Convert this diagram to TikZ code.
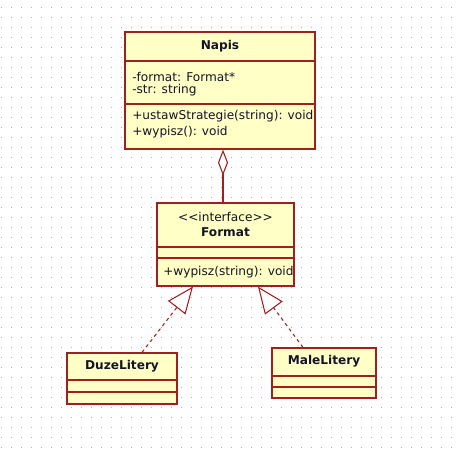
\documentclass[tikz,border=0pt]{standalone}
\usepackage{fontspec}
\setmainfont{DejaVu Sans}
\usetikzlibrary{arrows.meta,calc}
\definecolor{boxfill}{RGB}{255,255,198}
\definecolor{boxline}{RGB}{160,32,32}
\definecolor{dotc}{RGB}{175,175,175}
\definecolor{txt}{RGB}{20,20,40}
\tikzset{
  cls/.style={draw=boxline, fill=boxfill, line width=0.9pt, inner sep=0pt, rectangle},
  sep/.style={draw=boxline, line width=0.9pt},
  lbl/.style={inner sep=0pt, text=txt, font=\fontsize{9.1}{11}\selectfont},
  lblw/.style={lbl, anchor=west},
  ttl/.style={lbl, font=\fontsize{9.1}{11}\selectfont\bfseries},
  agg/.style={draw=boxline, line width=0.8pt, {Diamond[open, length=19.5pt, width=7.5pt, fill=white]}-},
  real/.style={draw=boxline, line width=0.8pt, dash pattern=on 2.5pt off 2.5pt, -{Triangle[open, length=20pt, width=16.5pt, fill=white]}}
}
\begin{document}
\begin{tikzpicture}[x=0.75pt, y=-0.75pt]
\useasboundingbox (0,0) rectangle (457,454);
\fill[white] (0,0) rectangle (457,454);
\foreach \i in {0,...,45}{
  \foreach \j in {0,...,44}{
    \fill[dotc] (1+10*\i,7+10*\j) rectangle ++(1.4,1.4);
  }
}
% Napis
\node[cls, minimum width=142.5pt, minimum height=87.75pt] (napis) at (220,90.5) {};
\draw[sep] (125,61) -- (315,61);
\draw[sep] (125,104) -- (315,104);
\node[ttl] (napisT) at (220,46.5) {Napis};
\node[lblw] (a1) at (132,76.5) {-format: Format*};
\node[lblw] (a2) at (132,90.5) {-str: string};
\node[lblw] (m1) at (132,116) {+ustawStrategie(string): void};
\node[lblw] (m2) at (132,132) {+wypisz(): void};
% Format
\node[cls, minimum width=102.75pt, minimum height=62.25pt] (format) at (225.5,244.5) {};
\draw[sep] (157,247) -- (294,247);
\draw[sep] (157,258) -- (294,258);
\node[lbl] (fS) at (225.5,217) {<{}<interface>{}>};
\node[ttl] (fT) at (225.5,232) {Format};
\node[lblw] (fm) at (163,272) {+wypisz(string): void};
% DuzeLitery
\node[cls, minimum width=82.5pt, minimum height=38.25pt] (duze) at (122,378.5) {};
\draw[sep] (67,380) -- (177,380);
\draw[sep] (67,392) -- (177,392);
\node[ttl] (dT) at (122,366.5) {DuzeLitery};
% MaleLitery
\node[cls, minimum width=78pt, minimum height=37.5pt] (male) at (324,373) {};
\draw[sep] (272,376) -- (376,376);
\draw[sep] (272,387) -- (376,387);
\node[ttl] (mT) at (324,361) {MaleLitery};
% connectors
\draw[agg] ($(napis.south)+(3,0)$) -- ($(format.north)+(-2.5,0)$);
\draw[real] ($(duze.north)+(20,0)$) -- ($(format.south)+(-32.5,0)$);
\draw[real] ($(male.north)+(-21,0)$) -- ($(format.south)+(32.5,0)$);
\end{tikzpicture}
\end{document}
